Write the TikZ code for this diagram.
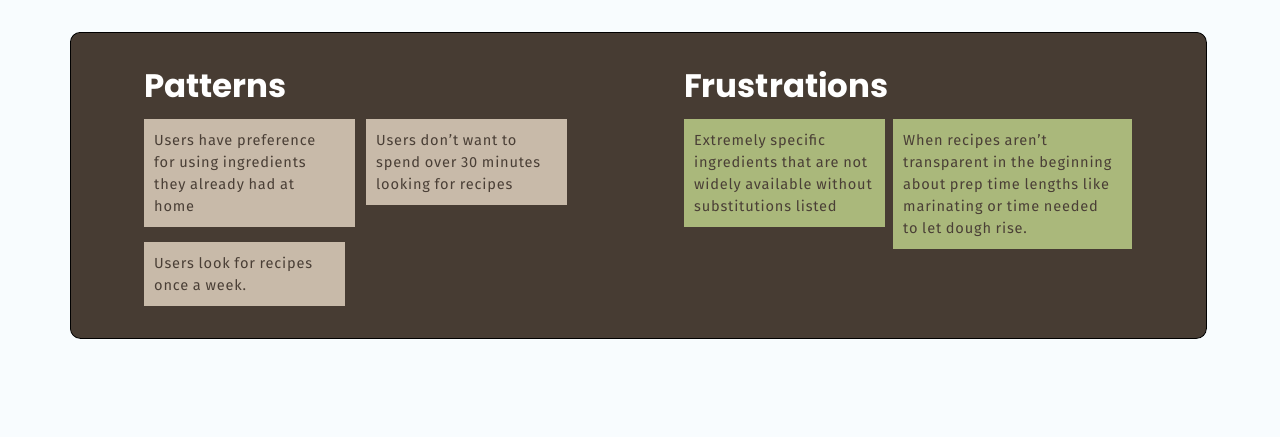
\documentclass[tikz,border=0pt]{standalone}
\usepackage{fontspec}
\setmainfont{Fira Sans}[LetterSpace=5.5]
\newfontfamily\headfont{Poppins}
\definecolor{pagebg}{HTML}{F8FCFE}
\definecolor{panelbg}{HTML}{473C33}
\definecolor{beige}{HTML}{C8BAA9}
\definecolor{sage}{HTML}{AAB87B}
\definecolor{cardtxt}{HTML}{4A3F36}
\newcommand{\cardtext}[3]{\parbox[b][#2][t]{#1}{\leftskip=10pt\rightskip=0pt plus 1fil\parindent=0pt\fontsize{14.6}{22}\selectfont\rule{0pt}{26pt}#3}}
\tikzset{
  panel/.style={draw=black, line width=0.8pt, fill=panelbg, rounded corners=10pt, inner sep=0pt, anchor=north west},
  head/.style={text=white, font=\headfont\bfseries\fontsize{32.5}{38}\selectfont, inner sep=0pt, anchor=base west},
  card/.style={inner sep=0pt, text=cardtxt, anchor=north west},
  pat/.style={card, fill=beige},
  fru/.style={card, fill=sage}
}
\begin{document}
\begin{tikzpicture}[x=1pt, y=-1pt]
\fill[pagebg] (0,0) rectangle (1280,437);
\useasboundingbox (0,0) rectangle (1280,437);
\node[panel, minimum width=1136pt, minimum height=306pt] (panel) at (70,32) {};
\node[head] (pt) at (144,97) {Patterns};
\node[head] (ft) at (684,97) {Frustrations};
\node[pat] (p1) at (144,119) {\cardtext{211pt}{108pt}{Users have preference\\for using ingredients\\they already had at\\home}};
\node[pat] (p2) at (366,119) {\cardtext{201pt}{86pt}{Users don’t want to\\spend over 30 minutes\\looking for recipes}};
\node[pat] (p3) at (144,242) {\cardtext{201pt}{64pt}{Users look for recipes\\once a week.}};
\node[fru] (f1) at (684,119) {\cardtext{201pt}{108pt}{Extremely specific\\ingredients that are not\\widely available without\\substitutions listed}};
\node[fru] (f2) at (893,119) {\cardtext{239pt}{130pt}{When recipes aren’t\\transparent in the beginning\\about prep time lengths like\\marinating or time needed\\to let dough rise.}};
\end{tikzpicture}
\end{document}
